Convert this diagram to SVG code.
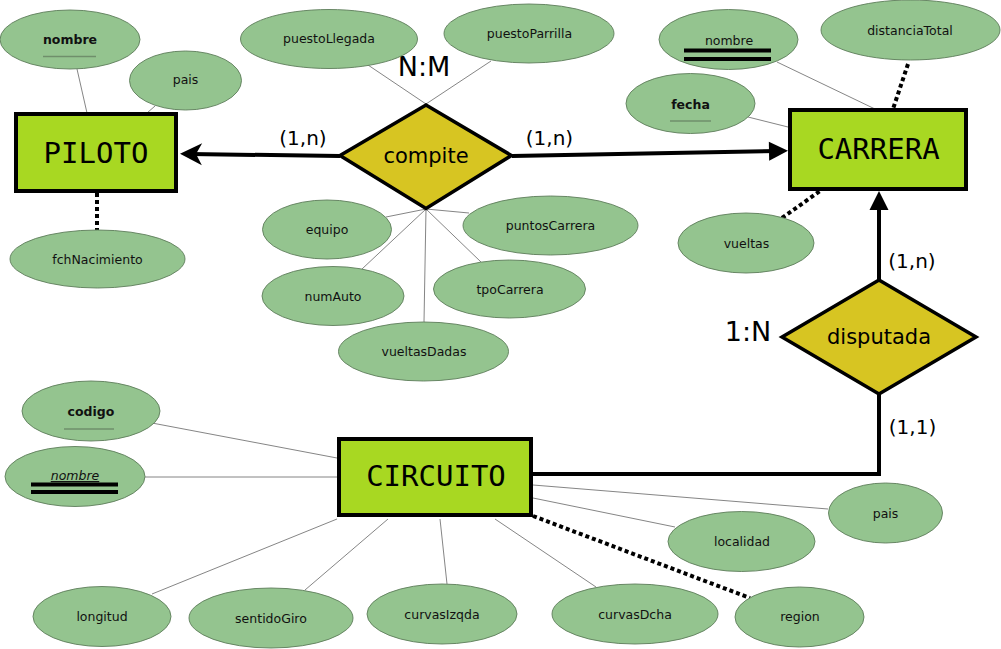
<svg xmlns="http://www.w3.org/2000/svg" width="1001" height="649" viewBox="0 0 1001 649">
<style>
.attr{fill:#94c48f;stroke:#5e7d5a;stroke-width:0.9}
.at{font-family:"DejaVu Sans",sans-serif;font-size:12.5px;fill:#111;text-anchor:middle}
.b{font-weight:bold}
.ent{fill:#a8d822;stroke:#000;stroke-width:4}
.et{font-family:"DejaVu Sans Mono",monospace;font-size:29px;fill:#000;text-anchor:middle}
.rel{fill:#d7c522;stroke:#000;stroke-width:3.5;stroke-linejoin:miter}
.rt{font-family:"DejaVu Sans",sans-serif;font-size:21px;fill:#000;text-anchor:middle}
.lbl{font-family:"DejaVu Sans",sans-serif;font-size:20px;fill:#000;text-anchor:middle}
.big{font-family:"DejaVu Sans",sans-serif;font-size:27px;fill:#000;text-anchor:middle}
.thin{stroke:#777;stroke-width:0.9;fill:none}
.dot{stroke:#000;stroke-width:4;stroke-dasharray:4 3;fill:none}
.thick{stroke:#000;stroke-width:4;fill:none}
.ul{stroke:#6f8f6b;stroke-width:1.3}
.dbl{stroke:#000;stroke-width:4}
</style>
<defs>
<marker id="arr" viewBox="-12 -12 24 24" refX="0" refY="0" markerWidth="24" markerHeight="24" markerUnits="userSpaceOnUse" orient="auto"><path d="M10,0 L-9,-9.5 L-9,9.5 z" fill="#000"/></marker>
<marker id="arrc" viewBox="-14 -14 28 28" refX="0" refY="0" markerWidth="28" markerHeight="28" markerUnits="userSpaceOnUse" orient="auto"><path d="M10,0 L-12,-11 L-6,0 L-12,11 z" fill="#000"/></marker>
</defs>
<rect width="1001" height="649" fill="#fff"/>
<g id="connectors">
<line class="thin" x1="77" y1="69" x2="87" y2="113"/>
<line class="thin" x1="155" y1="106" x2="147" y2="113"/>
<line class="dot" x1="97" y1="193" x2="97" y2="230"/>
<line class="thin" x1="368" y1="65" x2="426" y2="104"/>
<line class="thin" x1="491" y1="61" x2="426" y2="104"/>
<line class="thin" x1="386" y1="217" x2="426" y2="209"/>
<line class="thin" x1="469" y1="213" x2="426" y2="209"/>
<line class="thin" x1="362" y1="269" x2="426" y2="209"/>
<line class="thin" x1="424" y1="322" x2="426" y2="209"/>
<line class="thin" x1="481" y1="262" x2="426" y2="209"/>
<line class="thin" x1="777" y1="62" x2="875" y2="109"/>
<line class="dot" x1="908" y1="64" x2="893" y2="109"/>
<line class="thin" x1="748" y1="117" x2="788" y2="127"/>
<line class="dot" x1="782" y1="218" x2="820" y2="191"/>
<line class="thin" x1="152" y1="423" x2="337" y2="458"/>
<line class="thin" x1="145" y1="477" x2="337" y2="477"/>
<line class="thin" x1="152" y1="594" x2="337" y2="519"/>
<line class="thin" x1="305" y1="590" x2="388" y2="519"/>
<line class="thin" x1="440" y1="519" x2="447" y2="584"/>
<line class="thin" x1="495" y1="519" x2="596" y2="587"/>
<line class="thin" x1="533" y1="498" x2="675" y2="527"/>
<line class="thin" x1="533" y1="485" x2="828" y2="509"/>
<line class="dot" x1="533" y1="516" x2="750" y2="598"/>
<line class="thick" x1="340" y1="156" x2="190" y2="154" marker-end="url(#arrc)"/>
<line class="thick" x1="512" y1="156" x2="778" y2="151" marker-end="url(#arr)"/>
<line class="thick" x1="879" y1="281" x2="879" y2="201" marker-end="url(#arr)"/>
<polyline class="thick" points="879,394 879,474 532,474"/>
<text class="lbl" x="303" y="145">(1,n)</text>
<text class="lbl" x="549.5" y="145">(1,n)</text>
<text class="big" x="424" y="76">N:M</text>
<text class="lbl" x="912" y="268">(1,n)</text>
<text class="big" x="748" y="341">1:N</text>
<text class="lbl" x="912.5" y="434">(1,1)</text>
</g>
<g id="PILOTO"><rect class="ent" x="16" y="114" width="160" height="77"/><text class="et" x="96" y="163">PILOTO</text></g>
<g id="CARRERA"><rect class="ent" x="790" y="110" width="176" height="79"/><text class="et" x="878.5" y="159">CARRERA</text></g>
<g id="CIRCUITO"><rect class="ent" x="339" y="439" width="192" height="76"/><text class="et" x="436" y="486">CIRCUITO</text></g>
<g id="compite"><polygon class="rel" points="340,155.5 426,105 511.5,155.5 426,208.5"/><text class="rt" x="426" y="163">compite</text></g>
<g id="disputada"><polygon class="rel" points="782,337 879,280 976,337 879,394"/><text class="rt" x="879" y="344">disputada</text></g>
<g id="piloto-nombre"><ellipse class="attr" cx="70" cy="39.5" rx="70" ry="29.5"/><text class="at b" x="70" y="44">nombre</text><line class="ul" x1="43" y1="56.5" x2="96" y2="56.5"/></g>
<g id="piloto-pais"><ellipse class="attr" cx="185.5" cy="80.5" rx="56" ry="29.5"/><text class="at" x="185.5" y="84">pais</text></g>
<g id="fchNacimiento"><ellipse class="attr" cx="97.5" cy="259" rx="87.5" ry="29"/><text class="at" x="97.5" y="263.5">fchNacimiento</text></g>
<g id="puestoLlegada"><ellipse class="attr" cx="329" cy="39" rx="88.5" ry="29.5"/><text class="at" x="329" y="43">puestoLlegada</text></g>
<g id="puestoParrilla"><ellipse class="attr" cx="529" cy="33.5" rx="85" ry="29.5"/><text class="at" x="529.5" y="38">puestoParrilla</text></g>
<g id="equipo"><ellipse class="attr" cx="327" cy="229.5" rx="64.5" ry="29.5"/><text class="at" x="327" y="233.5">equipo</text></g>
<g id="numAuto"><ellipse class="attr" cx="333" cy="296" rx="71" ry="29.5"/><text class="at" x="333" y="301">numAuto</text></g>
<g id="vueltasDadas"><ellipse class="attr" cx="423.5" cy="351.5" rx="85" ry="29.5"/><text class="at" x="424" y="356">vueltasDadas</text></g>
<g id="tpoCarrera"><ellipse class="attr" cx="509.5" cy="289" rx="76" ry="29"/><text class="at" x="510" y="294">tpoCarrera</text></g>
<g id="puntosCarrera"><ellipse class="attr" cx="550.5" cy="225.5" rx="87.5" ry="29.5"/><text class="at" x="550.5" y="230">puntosCarrera</text></g>
<g id="carrera-nombre"><ellipse class="attr" cx="728.5" cy="39.5" rx="69.5" ry="30"/><text class="at" x="729" y="45">nombre</text><line class="dbl" x1="684" y1="50.5" x2="771" y2="50.5"/><line class="dbl" x1="684" y1="59" x2="771" y2="59"/></g>
<g id="distanciaTotal"><ellipse class="attr" cx="910.5" cy="30" rx="89.5" ry="30"/><text class="at" x="910" y="35">distanciaTotal</text></g>
<g id="fecha"><ellipse class="attr" cx="690.5" cy="103.5" rx="64.5" ry="30"/><text class="at b" x="690.5" y="109">fecha</text><line class="ul" x1="670" y1="121" x2="711" y2="121"/></g>
<g id="vueltas"><ellipse class="attr" cx="746" cy="243" rx="68" ry="30"/><text class="at" x="746.5" y="248">vueltas</text></g>
<g id="codigo"><ellipse class="attr" cx="91" cy="411" rx="69" ry="30"/><text class="at b" x="91" y="416">codigo</text><line class="ul" x1="64" y1="429" x2="114" y2="429"/></g>
<g id="circuito-nombre"><ellipse class="attr" cx="75" cy="476.5" rx="70" ry="30"/><text class="at" x="75" y="480" font-style="italic" text-decoration="underline">nombre</text><line class="dbl" x1="31" y1="484.5" x2="118" y2="484.5"/><line class="dbl" x1="31" y1="492" x2="118" y2="492"/></g>
<g id="longitud"><ellipse class="attr" cx="102" cy="616.5" rx="69" ry="30"/><text class="at" x="102" y="621">longitud</text></g>
<g id="sentidoGiro"><ellipse class="attr" cx="271" cy="618" rx="82" ry="30"/><text class="at" x="271" y="622.5">sentidoGiro</text></g>
<g id="curvasIzqda"><ellipse class="attr" cx="442" cy="614" rx="75" ry="30"/><text class="at" x="442" y="619">curvasIzqda</text></g>
<g id="curvasDcha"><ellipse class="attr" cx="635" cy="614" rx="83" ry="30"/><text class="at" x="635" y="618.5">curvasDcha</text></g>
<g id="region"><ellipse class="attr" cx="799.5" cy="617" rx="64.5" ry="30"/><text class="at" x="800" y="621">region</text></g>
<g id="localidad"><ellipse class="attr" cx="741.5" cy="541.5" rx="73.5" ry="30"/><text class="at" x="742" y="546">localidad</text></g>
<g id="circuito-pais"><ellipse class="attr" cx="885.5" cy="513" rx="57" ry="30"/><text class="at" x="885.5" y="518">pais</text></g>
</svg>
